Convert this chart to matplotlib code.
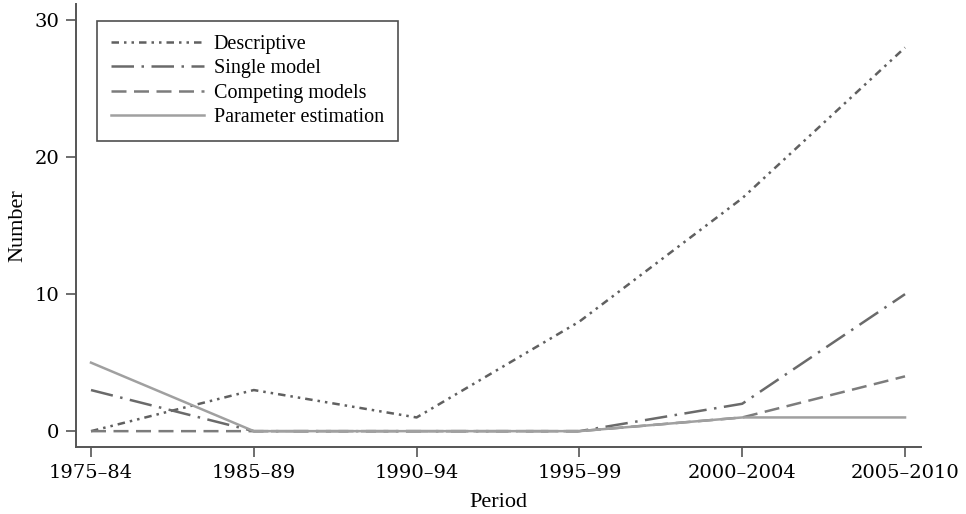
import matplotlib
matplotlib.use('Agg')
import matplotlib.pyplot as plt

plt.rcParams['font.family'] = ['Liberation Serif', 'DejaVu Serif']

periods = ['1975\u201384', '1985\u201389', '1990\u201394', '1995\u201399', '2000\u20132004', '2005\u20132010']
descriptive = [0, 3, 1, 8, 17, 28]
single_model = [3, 0, 0, 0, 2, 10]
competing = [0, 0, 0, 0, 1, 4]
param_est = [5, 0, 0, 0, 1, 1]

x = list(range(len(periods)))

fig = plt.figure(figsize=(9.66, 5.14), dpi=100)
ax = fig.add_axes([0.0787, 0.130, 0.8747, 0.862])

ax.plot(x, descriptive, color='#606060', lw=1.8, ls=(0, (3, 2, 1, 2, 1, 2)), label='Descriptive')
ax.plot(x, single_model, color='#6a6a6a', lw=1.8, ls=(0, (9, 3, 1, 3)), label='Single model')
ax.plot(x, competing, color='#7c7c7c', lw=1.8, ls=(0, (6, 3)), label='Competing models')
ax.plot(x, param_est, color='#a0a0a0', lw=1.8, ls='-', label='Parameter estimation')

ax.set_xlim(-0.092, 5.098)
ax.set_ylim(-1.17, 31.17)
ax.set_xticks(x)
ax.set_xticklabels(periods)
ax.set_yticks([0, 10, 20, 30])

for s in ['top', 'right']:
    ax.spines[s].set_visible(False)
for s in ['left', 'bottom']:
    ax.spines[s].set_color('#555555')
    ax.spines[s].set_linewidth(1.4)
ax.tick_params(direction='out', length=7, width=1.2, color='#555555', pad=5)
for lab in ax.get_xticklabels() + ax.get_yticklabels():
    lab.set_family('DejaVu Serif')
    lab.set_fontsize(14)

ax.set_xlabel('Period', fontsize=16, labelpad=8)
ax.set_ylabel('Number', fontsize=16, labelpad=5)

leg = ax.legend(loc='upper left', bbox_to_anchor=(0.0249, 0.9616), borderaxespad=0,
                prop={'family': 'Liberation Serif', 'size': 14.5}, frameon=True,
                fancybox=False, edgecolor='#222222', handlelength=4.6, borderpad=0.7,
                labelspacing=0.25, handletextpad=0.5)
leg.get_frame().set_linewidth(1.2)

plt.savefig('out.png', dpi=100)
